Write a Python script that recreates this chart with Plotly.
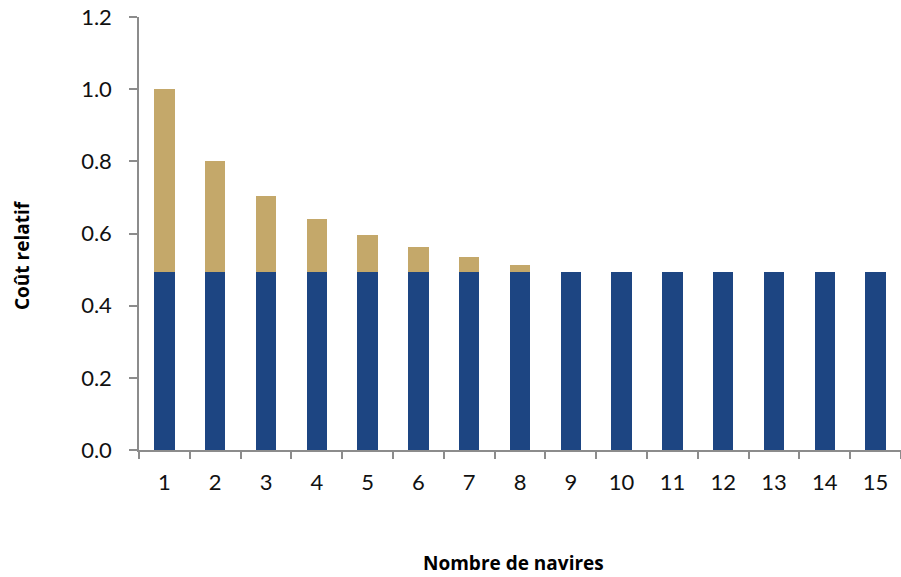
import plotly.graph_objects as go

# Relative cost by number of vessels
navires = [str(n) for n in range(1, 16)]
cout_total = [1.0, 0.80, 0.703, 0.641, 0.597, 0.563, 0.536, 0.513,
              0.494, 0.494, 0.494, 0.494, 0.494, 0.494, 0.494]
cout_base = [0.494] * 15
cout_supp = [round(t - b, 3) for t, b in zip(cout_total, cout_base)]

BLUE = "#1D4582"
GOLD = "#C4A86A"
AXIS = "#8C8C8C"

fig = go.Figure()
fig.add_trace(go.Bar(x=navires, y=cout_base, marker=dict(color=BLUE, line_width=0),
                     width=0.4, showlegend=False))
fig.add_trace(go.Bar(x=navires, y=cout_supp, marker=dict(color=GOLD, line_width=0),
                     width=0.4, showlegend=False))

tick_font = dict(family="Lato, Liberation Sans, sans-serif", size=22, color="#111111")
title_font = dict(family="Open Sans, DejaVu Sans, sans-serif", size=19, color="#000000")

PLOT_W = 762
PLOT_H = 433

fig.update_layout(
    barmode="stack",
    width=901, height=577,
    margin=dict(l=139, r=0, t=17, b=127),
    paper_bgcolor="white", plot_bgcolor="white",
    xaxis=dict(
        type="category", showgrid=False, zeroline=False,
        showline=True, linecolor=AXIS, linewidth=1.5,
        ticks="outside", tickson="boundaries", ticklen=7, tickcolor=AXIS, tickwidth=1.5,
        tickfont=tick_font, ticklabelstandoff=12,
    ),
    yaxis=dict(
        range=[0, 1.2], dtick=0.2, tickformat=".1f", showgrid=False, zeroline=False,
        showline=True, linecolor=AXIS, linewidth=1.5,
        ticks="outside", ticklen=8, tickcolor=AXIS, tickwidth=1.5,
        tickfont=tick_font, ticklabelstandoff=13,
    ),
    annotations=[
        dict(text="<b>Coût relatif</b>", xref="paper", yref="paper",
             x=(22 - 139) / PLOT_W, y=(450 - 255) / PLOT_H, textangle=-90,
             showarrow=False, font=title_font, xanchor="center", yanchor="middle"),
        dict(text="<b>Nombre de navires</b>", xref="paper", yref="paper",
             x=(513 - 139) / PLOT_W, y=-(563 - 450) / PLOT_H,
             showarrow=False, font=title_font, xanchor="center", yanchor="middle"),
    ],
)

fig.write_html("out.html")
